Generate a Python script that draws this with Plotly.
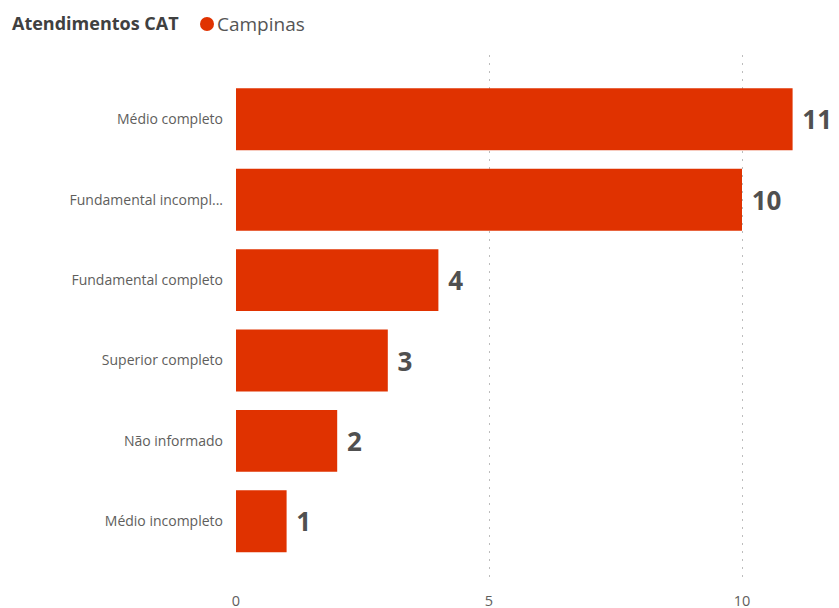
import plotly.graph_objects as go

categories = ["Médio completo", "Fundamental incompl...", "Fundamental completo",
              "Superior completo", "Não informado", "Médio incompleto"]
values = [11, 10, 4, 3, 2, 1]
series_name = "Campinas"
title_text = "Atendimentos CAT"
bar_color = "#E03200"

# page body has an 8px default margin, so margins are offset by 8px
fig = go.Figure()
fig.add_trace(go.Bar(
    y=categories, x=values, orientation="h",
    marker=dict(color=bar_color, line=dict(width=0)),
    text=values, texttemplate=" %{x}", textposition="outside",
    textfont=dict(family="Open Sans", size=26, color="#505050", weight="bold"),
    cliponaxis=False, name=series_name, showlegend=False,
))

x_left = -228 / 590  # paper x of the figure's left edge

fig.update_layout(
    width=839, height=608,
    margin=dict(l=228, r=21, t=47, b=36),
    plot_bgcolor="white", paper_bgcolor="white",
    bargap=0.23,
    font=dict(family="Open Sans", size=14, color="#666666"),
    xaxis=dict(range=[0, 11.66], tickvals=[0, 5, 10], showgrid=True,
               gridcolor="#BDBDBD", griddash="2px,6px", gridwidth=1,
               zeroline=False, showline=False, automargin=False,
               tickfont=dict(size=14.5, color="#605E5C"), ticklabelstandoff=10),
    yaxis=dict(range=[5.73, -0.8], showgrid=False, zeroline=False, automargin=False,
               ticklabelstandoff=12, tickfont=dict(size=14, color="#605E5C")),
    shapes=[
        dict(type="circle", xref="paper", yref="paper",
             xsizemode="pixel", ysizemode="pixel",
             xanchor=x_left, yanchor=1, x0=192, x1=206, y0=24, y1=38,
             fillcolor=bar_color, line=dict(width=0)),
    ],
    annotations=[
        dict(xref="paper", yref="paper", x=x_left, y=1, yshift=32,
             xanchor="left", yanchor="middle", showarrow=False, xshift=2,
             text=f"<b>{title_text}</b>",
             font=dict(family="Open Sans", size=18, color="#404040")),
        dict(xref="paper", yref="paper", x=x_left, y=1, yshift=31, xshift=207,
             xanchor="left", yanchor="middle", showarrow=False,
             text=series_name,
             font=dict(family="Open Sans", size=19, color="#555555")),
    ],
)

fig.write_html("out.html")
